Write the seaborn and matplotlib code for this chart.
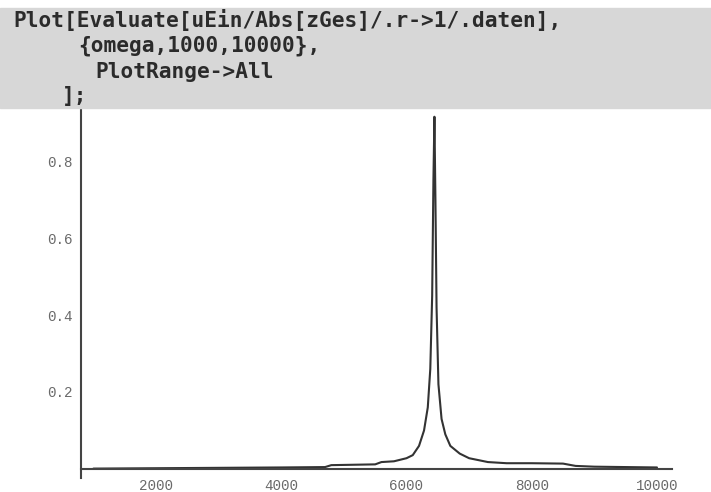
import matplotlib
matplotlib.use("Agg")
import matplotlib.pyplot as plt
from matplotlib.patches import Rectangle
import seaborn as sns
import pandas as pd

# ---- data ----
omega = [1000, 2000, 3000, 4000, 4700, 4800, 5500, 5600, 5800, 6000, 6100,
         6200, 6280, 6340, 6380, 6410, 6430, 6446, 6462, 6480, 6510, 6560,
         6620, 6700, 6850, 7000, 7300, 7600, 8000, 8500, 8700, 9000, 10000]
amplitude = [0.001, 0.002, 0.003, 0.004, 0.005, 0.010, 0.012, 0.018, 0.020,
             0.028, 0.036, 0.060, 0.100, 0.160, 0.260, 0.450, 0.750, 0.915,
             0.700, 0.420, 0.220, 0.130, 0.090, 0.060, 0.040, 0.028, 0.018,
             0.015, 0.015, 0.014, 0.008, 0.006, 0.004]
x_ticks = [2000, 4000, 6000, 8000, 10000]
y_ticks = [0.2, 0.4, 0.6, 0.8]
code_lines = ["Plot[Evaluate[uEin/Abs[zGes]/.r->1/.daten],",
              "{omega,1000,10000},",
              "PlotRange->All",
              "];"]

df = pd.DataFrame({"omega": omega, "amp": amplitude})

sns.set_style("white")
W, H = 711, 492
fig = plt.figure(figsize=(W / 100, H / 100), dpi=100)

# gray code cell background
fig.patches.append(Rectangle((0, (H - 108) / H), 1, 100 / H,
                             transform=fig.transFigure, color="#d7d7d7",
                             zorder=0))
code_x = [13, 78, 95, 62]
code_y = [20, 46, 72, 96]
for txt, px, py in zip(code_lines, code_x, code_y):
    fig.text(px / W, 1 - py / H, txt, family="DejaVu Sans Mono",
             weight="bold", fontsize=15.2, color="#2b2b2b",
             ha="left", va="center")

ax = fig.add_axes([81 / W, 14 / H, 591 / W, 370 / H])
sns.lineplot(data=df, x="omega", y="amp", ax=ax, color="#333333",
             linewidth=1.5, estimator=None, sort=False)

ax.set_xlim(802, 10240)
ax.set_ylim(-0.0234, 0.9377)
ax.spines["top"].set_visible(False)
ax.spines["right"].set_visible(False)
ax.spines["bottom"].set_position(("data", 0))
for s in ("left", "bottom"):
    ax.spines[s].set_color("#444444")
    ax.spines[s].set_linewidth(1.5)

ax.set_xticks(x_ticks)
ax.set_yticks(y_ticks)
ax.set_xticklabels([str(t) for t in x_ticks])
ax.set_yticklabels([f"{t:.1f}" for t in y_ticks])
ax.tick_params(axis="both", direction="in", length=4, width=1,
               color="#444444", labelcolor="#6a6a6a", labelsize=10.3)
ax.tick_params(axis="x", pad=7)
ax.tick_params(axis="y", pad=6)
for lab in ax.get_xticklabels() + ax.get_yticklabels():
    lab.set_family("Liberation Mono")
ax.set_xlabel("")
ax.set_ylabel("")
ax.patch.set_alpha(0)

fig.savefig("out.png", dpi=100)
